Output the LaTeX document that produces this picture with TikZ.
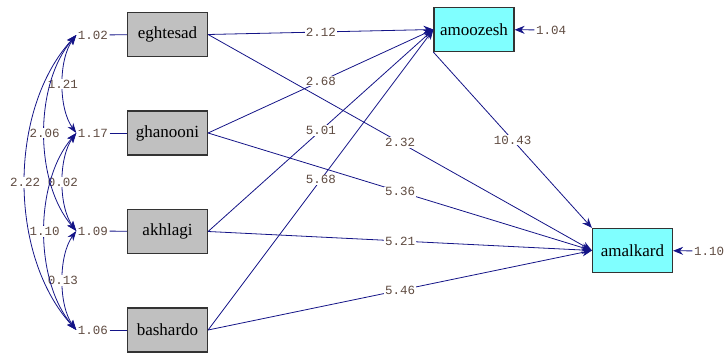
\documentclass[tikz,border=0pt]{standalone}
\usepackage{fontspec}
\setmainfont{Liberation Serif}
\newfontfamily\valfont{Liberation Mono}
\usetikzlibrary{arrows.meta}

\definecolor{pathblue}{RGB}{20,20,135}
\definecolor{valtext}{RGB}{95,75,65}
\definecolor{obsgray}{RGB}{192,192,192}
\definecolor{latcyan}{RGB}{128,255,255}

\begin{document}
\begin{tikzpicture}[x=1pt,y=-1pt,
  obs/.style={draw=black!80, line width=1.2pt, fill=obsgray,
    minimum width=80pt, minimum height=44pt, inner sep=0pt,
    font=\fontsize{17}{19}\selectfont},
  endo/.style={obs, fill=latcyan},
  val/.style={font=\valfont\fontsize{12.5}{13}\selectfont, text=valtext, inner sep=1.5pt},
  lab/.style={val, fill=white, inner sep=1pt},
  link/.style={draw=pathblue, line width=0.8pt},
  effect/.style={link, -{Stealth[length=10pt,width=8pt]}},
  cov/.style={link, {Stealth[length=10pt,width=7pt]}-{Stealth[length=10pt,width=7pt]}}
]
\useasboundingbox (0,0) rectangle (726,355);

% observed exogenous variables
\node[obs] (eg) at (167.5,34.5) {eghtesad};
\node[obs] (gh) at (167.5,133) {ghanooni};
\node[obs] (ak) at (167.5,231.5) {akhlagi};
\node[obs] (ba) at (167.5,330) {bashardo};

% endogenous variables
\node[endo] (am) at (474,29.5) {amoozesh};
\node[endo] (al) at (632.5,250.5) {amalkard};

% variances of the exogenous variables
\node[val] (e1) at (93,35) {1.02};
\node[val] (e2) at (93,133) {1.17};
\node[val] (e3) at (93,231) {1.09};
\node[val] (e4) at (93,330) {1.06};
\foreach \v/\b in {e1/eg,e2/gh,e3/ak,e4/ba} \draw[link] (\v) -- (\b);

% error variances of the endogenous variables
\node[val] (e5) at (551,30) {1.04};
\node[val] (e6) at (709,251) {1.10};
\draw[effect] (e5) -- (am);
\draw[effect] (e6) -- (al);

% covariances between the exogenous variables
\draw[cov] (e1.west) .. controls (58.3,59.5) and (58.3,108.5) .. node[lab,midway]{1.21} (e2.west);
\draw[cov] (e2.west) .. controls (58.3,157.5) and (58.3,206.5) .. node[lab,midway]{0.02} (e3.west);
\draw[cov] (e3.west) .. controls (58.3,255.5) and (58.3,305.5) .. node[lab,midway]{0.13} (e4.west);
\draw[cov] (e1.west) .. controls (34,84) and (34,182) .. node[lab,midway]{2.06} (e3.west);
\draw[cov] (e2.west) .. controls (34,182) and (34,281) .. node[lab,midway]{1.10} (e4.west);
\draw[cov] (e1.west) .. controls (8,109) and (8,256) .. node[lab,midway]{2.22} (e4.west);

% structural paths
\draw[effect] (eg.east) -- node[lab,midway]{2.12} (am.west);
\draw[effect] (gh.east) -- node[lab,midway]{2.68} (am.west);
\draw[effect] (ak.east) -- node[lab,midway]{5.01} (am.west);
\draw[effect] (ba.east) -- node[lab,midway]{5.68} (am.west);
\draw[effect] (eg.east) -- node[lab,midway]{2.32} (al.west);
\draw[effect] (gh.east) -- node[lab,midway]{5.36} (al.west);
\draw[effect] (ak.east) -- node[lab,midway]{5.21} (al.west);
\draw[effect] (ba.east) -- node[lab,midway]{5.46} (al.west);
\draw[effect] (am.south west) -- node[lab,midway]{10.43} (al.north west);
\end{tikzpicture}
\end{document}
